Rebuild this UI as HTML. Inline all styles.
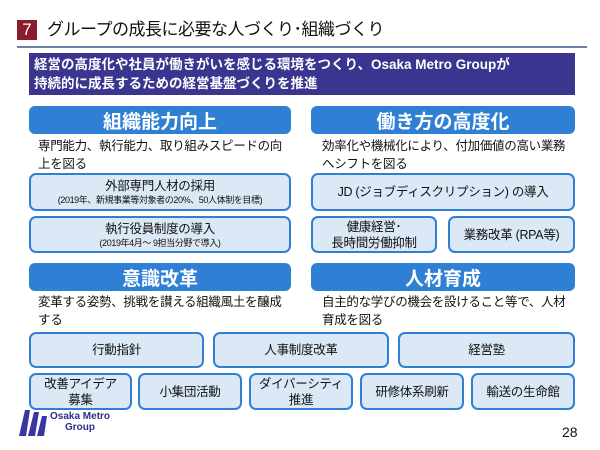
<!DOCTYPE html>
<html><head><meta charset="utf-8"><style>
body{margin:0;width:600px;height:450px;background:#fff;position:relative;overflow:hidden;font-family:"Liberation Sans","Noto Sans CJK JP",sans-serif;color:#111}
.a{position:absolute;box-sizing:border-box}
.hd{background:#2f7fd5;border-radius:6px;color:#fff;font-weight:bold;font-size:19px;display:flex;align-items:center;justify-content:center;height:28px}
.bx{background:#dbe8f6;border:2px solid #2f7fd5;border-radius:7px;display:flex;flex-direction:column;align-items:center;justify-content:center;text-align:center;font-size:12.5px;line-height:16px;letter-spacing:-0.3px}
.bx small{font-size:9px;line-height:12px;letter-spacing:-0.4px}
.d{font-size:12.5px;line-height:18px;letter-spacing:-0.3px}
</style></head><body>
<div class="a" style="left:17px;top:20px;width:20px;height:20px;background:#8b1c2e;color:#fff;font-size:17px;display:flex;align-items:center;justify-content:center">7</div>
<div class="a" style="left:47px;top:17px;font-size:17px;line-height:26px;white-space:nowrap;letter-spacing:-0.5px">グループの成長に必要な人づくり･組織づくり</div>
<div class="a" style="left:17px;top:46px;width:570px;height:2px;background:#6f7fa8"></div>
<div class="a" style="left:29px;top:53px;width:546px;height:42px;background:#3a358e;color:#fff;font-weight:bold;font-size:13.5px;line-height:19px;padding:2px 0 0 5px">経営の高度化や社員が働きがいを感じる環境をつくり、Osaka Metro Groupが<br>持続的に成長するための経営基盤づくりを推進</div>

<div class="a hd" style="left:29px;top:106px;width:262px">組織能力向上</div>
<div class="a hd" style="left:311px;top:106px;width:264px">働き方の高度化</div>
<div class="a d" style="left:38px;top:137px;width:255px">専門能力、執行能力、取り組みスピードの向<br>上を図る</div>
<div class="a d" style="left:322px;top:137px;width:255px">効率化や機械化により、付加価値の高い業務<br>へシフトを図る</div>
<div class="a bx" style="left:29px;top:173px;width:262px;height:38px">外部専門人材の採用<small>(2019年、新規事業等対象者の20%、50人体制を目標)</small></div>
<div class="a bx" style="left:29px;top:216px;width:262px;height:37px">執行役員制度の導入<small>(2019年4月～ 9担当分野で導入)</small></div>
<div class="a bx" style="left:311px;top:173px;width:264px;height:38px">JD (ジョブディスクリプション) の導入</div>
<div class="a bx" style="left:311px;top:216px;width:126px;height:37px">健康経営･<br>長時間労働抑制</div>
<div class="a bx" style="left:448px;top:216px;width:127px;height:37px">業務改革 (RPA等)</div>

<div class="a hd" style="left:29px;top:263px;width:262px">意識改革</div>
<div class="a hd" style="left:311px;top:263px;width:264px">人材育成</div>
<div class="a d" style="left:38px;top:293px;width:255px">変革する姿勢、挑戦を讃える組織風土を醸成<br>する</div>
<div class="a d" style="left:322px;top:293px;width:255px">自主的な学びの機会を設けること等で、人材<br>育成を図る</div>
<div class="a bx" style="left:29px;top:332px;width:175px;height:36px">行動指針</div>
<div class="a bx" style="left:213px;top:332px;width:176px;height:36px">人事制度改革</div>
<div class="a bx" style="left:398px;top:332px;width:177px;height:36px">経営塾</div>
<div class="a bx" style="left:29px;top:373px;width:103px;height:37px">改善アイデア<br>募集</div>
<div class="a bx" style="left:138px;top:373px;width:104px;height:37px">小集団活動</div>
<div class="a bx" style="left:249px;top:373px;width:104px;height:37px">ダイバーシティ<br>推進</div>
<div class="a bx" style="left:360px;top:373px;width:104px;height:37px">研修体系刷新</div>
<div class="a bx" style="left:471px;top:373px;width:104px;height:37px">輸送の生命館</div>

<svg class="a" style="left:18px;top:408px" width="30" height="30" viewBox="0 0 30 30"><path d="M1 28 L7 2 L12 2 L8 28Z M10 28 L16 4 L21 4 L17 28Z M19 28 L24 8 L29 8 L26 28Z" fill="#3a37a0"/></svg>
<div class="a" style="left:50px;top:411px;font-size:10px;line-height:11px;font-weight:bold;color:#2f2c8c;text-align:center">Osaka Metro<br>Group</div>
<div class="a" style="left:562px;top:424px;font-size:14px">28</div>
</body></html>
